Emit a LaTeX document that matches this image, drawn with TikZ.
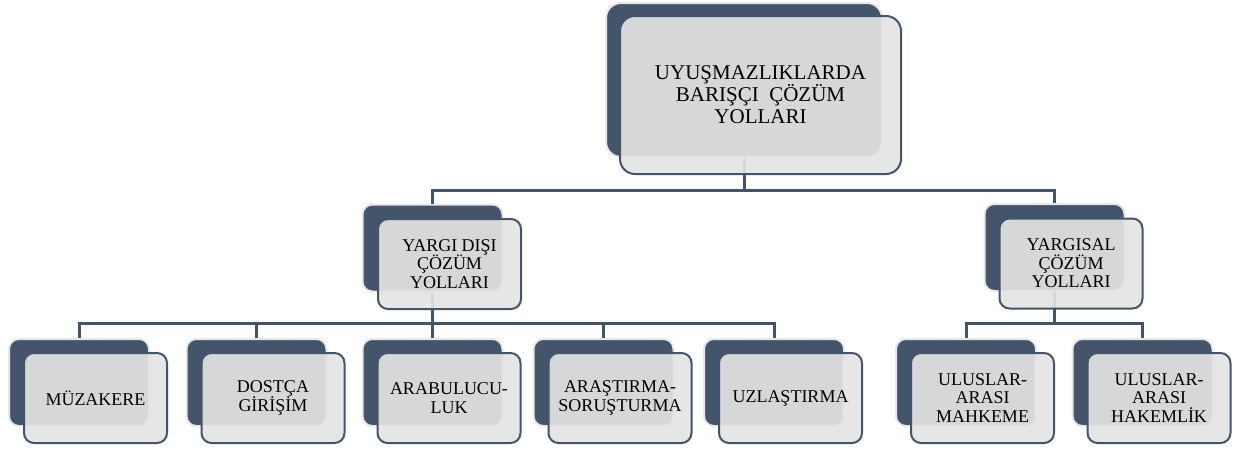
\documentclass[tikz,border=0pt]{standalone}
\usepackage{fontspec}
\setmainfont{Liberation Serif}
\usepackage{tikz}
\definecolor{slate}{HTML}{44546A}
\definecolor{paper}{HTML}{E4E4E4}
\tikzstyle{box_back} = [rectangle, rounded corners=10pt, fill=slate, draw=black!9, line width=2pt, inner sep=0pt, minimum width=140pt, minimum height=87pt]
\tikzstyle{box_front} = [rectangle, rounded corners=10pt, fill=paper, fill opacity=0.91, text opacity=1, draw=slate, line width=2pt, inner sep=0pt, align=center, minimum width=143pt, minimum height=90pt, font=\fontsize{18}{18.5}\selectfont]
\tikzstyle{back_top} = [box_back, rounded corners=15pt, minimum width=276pt, minimum height=154pt]
\tikzstyle{front_top} = [box_front, rounded corners=15pt, minimum width=281pt, minimum height=158pt, font=\fontsize{21}{22}\selectfont]
\tikzstyle{link} = [draw=slate, line width=3pt]

\begin{document}
\begin{tikzpicture}[x=1pt,y=-1pt]
\useasboundingbox (0,0) rectangle (1243,450);
% back plates
\node [back_top] (b0) at (744,80) {};
\node [box_back] (b1) at (432.5,248) {};
\node [box_back] (b2) at (1054.5,247.5) {};
\node [box_back] (l1) at (79,382.5) {};
\node [box_back] (l2) at (256.5,382.5) {};
\node [box_back] (l3) at (432.5,382.5) {};
\node [box_back] (l4) at (603.5,382.5) {};
\node [box_back] (l5) at (774,382.5) {};
\node [box_back] (r1) at (966,382.5) {};
\node [box_back] (r2) at (1142.5,382.5) {};
% connectors
\coordinate (j0) at (744,190);
\coordinate (j1) at (432.5,323);
\coordinate (j2) at (1054.5,323);
\draw [link] (b0.south) -- (j0) -| (b1.north);
\draw [link] (j0) -| (b2.north);
\draw [link] (b1.south) -- (l3.north);
\draw [link] (j1) -| (l1.north);
\draw [link] (j1) -| (l2.north);
\draw [link] (j1) -| (l4.north);
\draw [link] (j1) -| (l5.north);
\draw [link] (b2.south) -- (j2) -| (r1.north);
\draw [link] (j2) -| (r2.north);
% front plates
\node [front_top, xshift=16.5pt, yshift=-15pt] (f0) at (b0) {UYUŞMAZLIKLARDA\\BARIŞÇI~~ÇÖZÜM\\YOLLARI};
\node [box_front, xshift=17pt, yshift=-16pt] (g1) at (b1) {YARGI DIŞI\\ÇÖZÜM\\YOLLARI};
\node [box_front, xshift=16.5pt, yshift=-16pt] (g2) at (b2) {YARGISAL\\ÇÖZÜM\\YOLLARI};
\node [box_front, xshift=16.5pt, yshift=-15.5pt] (m1) at (l1) {MÜZAKERE};
\node [box_front, xshift=16.5pt, yshift=-15.5pt] (m2) at (l2) {DOSTÇA\\GİRİŞİM};
\node [box_front, xshift=16.5pt, yshift=-15.5pt] (m3) at (l3) {ARABULUCU-\\LUK};
\node [box_front, xshift=16.5pt, yshift=-15.5pt] (m4) at (l4) {ARAŞTIRMA-\\SORUŞTURMA};
\node [box_front, xshift=16.5pt, yshift=-15.5pt] (m5) at (l5) {UZLAŞTIRMA};
\node [box_front, xshift=16.5pt, yshift=-15.5pt] (s1) at (r1) {ULUSLAR-\\ARASI\\MAHKEME};
\node [box_front, xshift=16.5pt, yshift=-15.5pt] (s2) at (r2) {ULUSLAR-\\ARASI\\HAKEMLİK};
\end{tikzpicture}
\end{document}
